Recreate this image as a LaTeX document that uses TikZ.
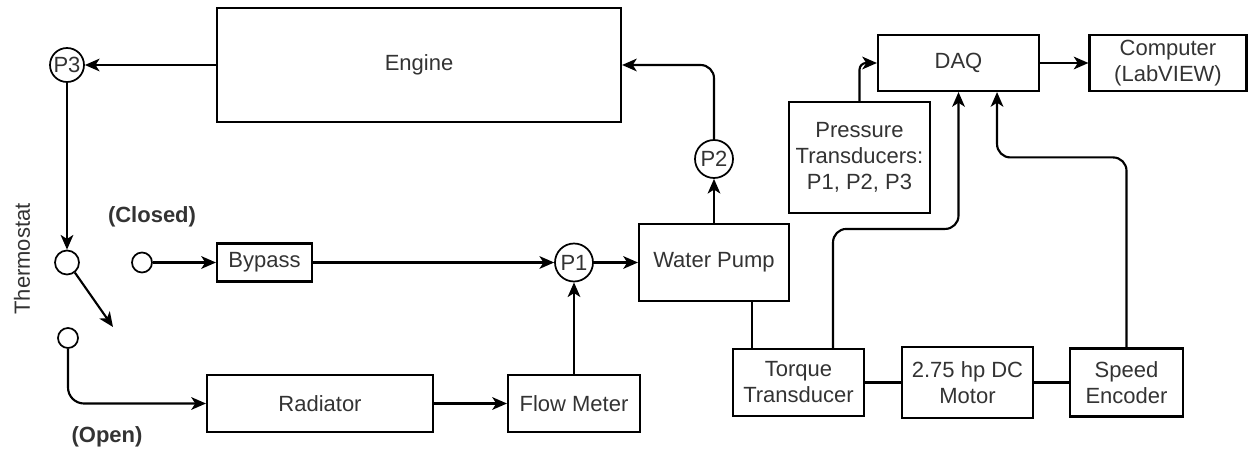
\documentclass[tikz,border=0pt]{standalone}
\usepackage{fontspec}
\setmainfont{Liberation Sans}
\usetikzlibrary{arrows.meta}
\definecolor{txt}{rgb}{0.2,0.2,0.2}
\begin{document}
\begin{tikzpicture}[x=0.75pt,y=-0.75pt,
  font=\fontsize{16.5}{19.5}\selectfont,
  every node/.style={text=txt},
  box/.style={draw=black,line width=1.6pt,rectangle,inner sep=0pt,align=center},
  ring/.style={draw=black,line width=1.3pt,circle,inner sep=0pt},
  arr/.style={line width=1.6pt,-{Stealth[length=11pt,width=9.5pt,inset=3pt]}},
  ln/.style={line width=1.6pt},
  lbl/.style={font=\fontsize{16.5}{19.5}\selectfont\bfseries}]
\useasboundingbox (0,0) rectangle (1248,449);
% boxes
\node[box,minimum width=404*0.75pt,minimum height=114*0.75pt] (engine) at (419,65) {Engine};
\node[box,minimum width=95*0.75pt,minimum height=38*0.75pt] (bypass) at (264.5,262.5) {Bypass};
\node[box,minimum width=226*0.75pt,minimum height=57*0.75pt] (radiator) at (320,403.5) {Radiator};
\node[box,minimum width=132*0.75pt,minimum height=57*0.75pt] (flow) at (574,403.5) {Flow Meter};
\node[box,minimum width=150*0.75pt,minimum height=77*0.75pt] (pump) at (714,262.5) {Water Pump};
\node[box,minimum width=141*0.75pt,minimum height=111*0.75pt] (pt) at (859.5,157.5) {Pressure\\Transducers:\\P1, P2, P3};
\node[box,minimum width=161*0.75pt,minimum height=56*0.75pt] (daq) at (958.5,63) {DAQ};
\node[box,minimum width=157*0.75pt,minimum height=56*0.75pt] (comp) at (1168,63) {Computer\\(LabVIEW)};
\node[box,minimum width=131*0.75pt,minimum height=67*0.75pt] (torque) at (798.5,382.5) {Torque\\Transducer};
\node[box,minimum width=131*0.75pt,minimum height=71*0.75pt] (motor) at (967.5,382.5) {2.75 hp DC\\Motor};
\node[box,minimum width=113*0.75pt,minimum height=68*0.75pt] (speed) at (1126.5,382.5) {Speed\\Encoder};
% circles
\node[ring,minimum size=34*0.75pt] (P3) at (67,65) {P3};
\node[ring,minimum size=38*0.75pt] (P1) at (574,262.5) {P1};
\node[ring,minimum size=38*0.75pt] (P2) at (714,159) {P2};
\node[ring,minimum size=24*0.75pt] (T1) at (67,262.5) {};
\node[ring,minimum size=20*0.75pt] (Tc) at (142,262.5) {};
\node[ring,minimum size=20*0.75pt] (To) at (68,338) {};
\coordinate (sw) at (113,327);
% labels
\node[lbl] (lclosed) at (152,217) {(Closed)};
\node[lbl] (lopen) at (107,437) {(Open)};
\node[rotate=90] (lthermo) at (22,259) {Thermostat};
% connectors
\draw[arr] (engine.west) -- (P3.east);
\draw[arr] (P3.south) -- (T1.north);
\draw[arr] (T1.-52) -- (sw);
\draw[arr] (Tc.east) -- (bypass.west);
\draw[arr,rounded corners=12pt] (To.south) |- (radiator.west);
\draw[arr] (bypass.east) -- (P1.west);
\draw[arr] (radiator.east) -- (flow.west);
\draw[arr] (flow.north) -- (P1.south);
\draw[arr] (P1.east) -- (pump.west);
\draw[arr] (pump.north) -- (P2.south);
\draw[arr,rounded corners=10pt] (P2.north) |- (engine.east);
\draw[arr,rounded corners=5pt] (pt.north) |- (daq.west);
\draw[arr] (daq.east) -- (comp.west);
\draw[ln] ([xshift=28.5pt]pump.south) -- ([xshift=28.5pt]pump.south |- torque.north);
\draw[ln] (torque.east) -- (motor.west);
\draw[ln] (motor.east) -- (speed.west);
\draw[arr,rounded corners=10pt] ([xshift=25.9pt]torque.north) -- ++(0,-119) -| (daq.south);
\draw[arr,rounded corners=10pt] (speed.north) -- ++(0,-190) -| ([xshift=28.9pt]daq.south);
\end{tikzpicture}
\end{document}
